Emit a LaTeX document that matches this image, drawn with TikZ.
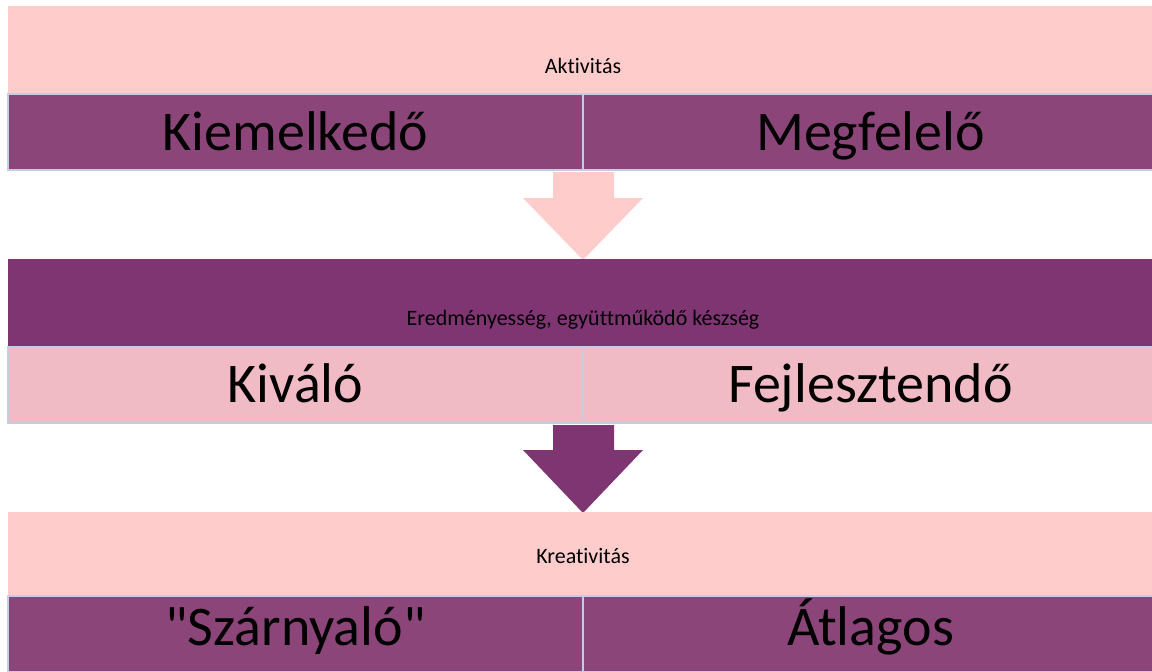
\documentclass[tikz,border=0pt]{standalone}
\usepackage{fontspec}
\setmainfont{Carlito}[Ligatures={NoCommon,TeXOff}]
\definecolor{bandpink}{RGB}{255,204,204}
\definecolor{cellpurple}{RGB}{139,69,121}
\definecolor{banddark}{RGB}{126,53,114}
\definecolor{cellpink}{RGB}{240,187,197}
\definecolor{edgeblue}{RGB}{197,205,228}
\begin{document}
\begin{tikzpicture}[x=1pt,y=-1pt,
  band/.style={draw=none, anchor=north west, minimum width=1150pt, inner sep=0pt, outer sep=0pt},
  cell/.style={draw=edgeblue, line width=2pt, anchor=north west, minimum width=575pt, minimum height=76pt, inner sep=0pt, outer sep=0pt},
  smalltext/.style={anchor=base, inner sep=0pt, font=\fontsize{22}{26}\selectfont},
  bigtext/.style={anchor=base, inner sep=0pt, font=\fontsize{56}{64}\selectfont}]
\useasboundingbox (0,0) rectangle (1152,672);
\clip (0,0) rectangle (1152,672);
% band 1
\node[band, fill=bandpink, minimum height=88pt] (b1) at (8,6) {};
\node[smalltext] (t1) at (583,73) {Aktivitás};
\node[cell, fill=cellpurple] (c1l) at (8,94) {};
\node[cell, fill=cellpurple] (c1r) at (583,94) {};
\node[bigtext] (k1) at (295.5,150) {Kiemelkedő};
\node[bigtext] (m1) at (870.5,150) {Megfelelő};
% arrow 1
\fill[bandpink] (553,172) -- (614,172) -- (614,198) -- (643,198) -- (583,260) -- (523,198) -- (553,198) -- cycle;
% band 2
\node[band, fill=banddark, minimum height=88pt] (b2) at (8,259) {};
\node[smalltext] (t2) at (583,325) {Eredményesség, együttműködő készség};
\node[cell, fill=cellpink] (c2l) at (8,347) {};
\node[cell, fill=cellpink] (c2r) at (583,347) {};
\node[bigtext] (k2) at (295.5,402) {Kiváló};
\node[bigtext] (m2) at (870.5,402) {Fejlesztendő};
% arrow 2
\fill[banddark] (553,425) -- (614,425) -- (614,450) -- (643,450) -- (583,513) -- (523,450) -- (553,450) -- cycle;
% band 3
\node[band, fill=bandpink, minimum height=84pt] (b3) at (8,512) {};
\node[smalltext] (t3) at (583,563) {Kreativitás};
\node[cell, fill=cellpurple] (c3l) at (8,596) {};
\node[cell, fill=cellpurple] (c3r) at (583,596) {};
\node[bigtext] (k3) at (295.5,645) {\char34 Szárnyaló\char34};
\node[bigtext] (m3) at (870.5,645) {Átlagos};
\end{tikzpicture}
\end{document}
